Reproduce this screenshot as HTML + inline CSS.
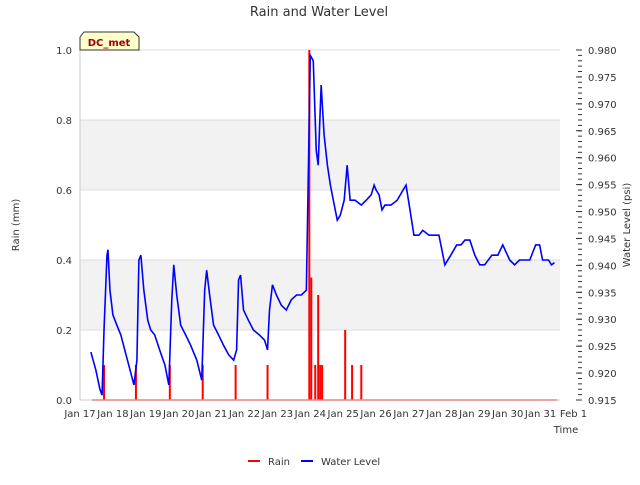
<!DOCTYPE html>
<html><head><meta charset="utf-8"><style>
body{margin:0;background:#fff;font-family:"Liberation Sans","DejaVu Sans",sans-serif}
svg text{font-family:"DejaVu Sans","Liberation Sans",sans-serif;fill:#333}
</style></head><body>
<svg id="chart" width="640" height="480" xmlns="http://www.w3.org/2000/svg">
<text x="319" y="16" text-anchor="middle" font-size="13" fill="#444">Rain and Water Level</text>
<g id="bands"></g><g id="grid"></g><g id="rainG"></g><g id="waterG"></g><g id="axes"></g>
<text x="19" y="225" transform="rotate(-90 19 225)" text-anchor="middle" font-size="10">Rain (mm)</text>
<text x="630" y="225" transform="rotate(-90 630 225)" text-anchor="middle" font-size="10">Water Level (psi)</text>
<text x="566" y="433" text-anchor="middle" font-size="10">Time</text>
<g>
<path d="M80,50 L80,37 L84,32 L134,32 L139,37 L139,50 Z" fill="#ffffcc" stroke="#333" stroke-width="1"/>
<text x="109" y="46" text-anchor="middle" font-size="10" font-weight="bold" fill="#a00000" style="fill:#a00000">DC_met</text>
</g>
<g>
<line x1="248" y1="461" x2="260" y2="461" stroke="red" stroke-width="2"/>
<text x="268" y="465" font-size="10">Rain</text>
<line x1="301" y1="461" x2="313" y2="461" stroke="blue" stroke-width="2"/>
<text x="321" y="465" font-size="10">Water Level</text>
</g>
</svg>
<script>
const xTickLabels=["Jan 17","Jan 18","Jan 19","Jan 20","Jan 21","Jan 22","Jan 23","Jan 24","Jan 25","Jan 26","Jan 27","Jan 28","Jan 29","Jan 30","Jan 31","Feb 1"];
const leftTicks=[0.0,0.2,0.4,0.6,0.8,1.0];
const rightTicks=[0.915,0.920,0.925,0.930,0.935,0.940,0.945,0.950,0.955,0.960,0.965,0.970,0.975,0.980];
// days since Jan 17
const rainDays=[0.73,1.70,2.73,3.73,4.73,5.70,6.97,7.03,7.15,7.24,7.30,7.36,8.06,8.27,8.55];
const rainVals=[0.10,0.10,0.10,0.10,0.10,0.10,1.00,0.35,0.10,0.30,0.10,0.10,0.20,0.10,0.10];
const waterDays=[0.33,0.48,0.61,0.67,0.73,0.82,0.85,0.91,1.00,1.12,1.24,1.36,1.52,1.64,1.73,1.79,1.85,1.94,2.06,2.15,2.27,2.42,2.58,2.70,2.79,2.85,2.94,3.06,3.21,3.36,3.55,3.70,3.79,3.85,3.94,4.06,4.21,4.36,4.52,4.67,4.76,4.82,4.88,4.97,5.12,5.27,5.45,5.61,5.70,5.76,5.85,5.97,6.12,6.27,6.42,6.58,6.73,6.88,7.00,7.09,7.18,7.24,7.33,7.42,7.52,7.61,7.70,7.82,7.91,8.03,8.12,8.21,8.36,8.55,8.70,8.85,8.94,9.00,9.09,9.18,9.27,9.45,9.64,9.82,9.91,10.03,10.15,10.30,10.42,10.61,10.79,10.91,11.09,11.27,11.45,11.58,11.70,11.85,12.00,12.15,12.30,12.52,12.70,12.85,13.06,13.21,13.36,13.67,13.85,13.97,14.06,14.24,14.33,14.42];
const waterVals=[0.9239,0.9206,0.9169,0.9159,0.928,0.9419,0.9429,0.9354,0.9308,0.9289,0.9271,0.9243,0.9206,0.9178,0.9224,0.941,0.9419,0.9354,0.9298,0.928,0.9271,0.9243,0.9215,0.9178,0.9336,0.9401,0.9345,0.9289,0.9271,0.9252,0.9224,0.9187,0.9354,0.9391,0.9345,0.9289,0.9271,0.9252,0.9234,0.9224,0.9243,0.9373,0.9382,0.9317,0.9298,0.928,0.9271,0.9261,0.9243,0.9317,0.9364,0.9345,0.9326,0.9317,0.9336,0.9345,0.9345,0.9354,0.979,0.978,0.9614,0.9586,0.9735,0.9642,0.9586,0.9549,0.9521,0.9484,0.9493,0.9521,0.9586,0.9521,0.9521,0.9512,0.9521,0.9531,0.9549,0.954,0.9531,0.9503,0.9512,0.9512,0.9521,0.954,0.9549,0.9503,0.9456,0.9456,0.9465,0.9456,0.9456,0.9456,0.9401,0.9419,0.9438,0.9438,0.9447,0.9447,0.9419,0.9401,0.9401,0.9419,0.9419,0.9438,0.941,0.9401,0.941,0.941,0.9438,0.9438,0.941,0.941,0.9401,0.9405];
const NS="http://www.w3.org/2000/svg";
const L=80,R=560,T=50,B=400;
const xS=d=>80+d*32.9;
const yL=v=>B-(v-0)/(1.0-0)*(B-T);
const yR=v=>B-(v-0.915)/(0.980-0.915)*(B-T);
function mk(tag,parent,attrs){const e=document.createElementNS(NS,tag);for(const k in attrs)e.setAttribute(k,attrs[k]);document.getElementById(parent).appendChild(e);return e;}
// bands
[[0.2,0.4],[0.6,0.8]].forEach(b=>{const e=mk('rect','bands',{x:L,y:yL(b[1]),width:R-L,height:yL(b[0])-yL(b[1]),fill:'#f2f2f2'});

});
leftTicks.forEach(v=>{const e=mk('line','grid',{x1:L,x2:R,y1:yL(v),y2:yL(v),stroke:'#dcdcdc','stroke-width':1});


const t=mk('text','axes',{x:L-8,y:yL(v)+4,'text-anchor':'end','font-size':10});t.textContent=v.toFixed(1);

});
mk('line','axes',{x1:L,x2:L,y1:T,y2:B,stroke:'#ccc'});
mk('line','axes',{x1:L,x2:R,y1:B,y2:B,stroke:'#ccc'});
rightTicks.forEach(v=>{const t=mk('text','axes',{x:R+28,y:yR(v)+4,'font-size':10});t.textContent=v.toFixed(3);


for(let k=0;k<5&&v<0.98;k++){const y=yR(v+k*0.001);mk('line','axes',{x1:R+18,x2:R+22,y1:y,y2:y,stroke:'#333'});}
mk('line','axes',{x1:R+16,x2:R+22,y1:yR(v),y2:yR(v),stroke:'#333'});});
xTickLabels.forEach((s,i)=>{const t=mk('text','axes',{x:xS(i),y:417,'text-anchor':'middle','font-size':10});t.textContent=s;

});
// rain
const base=mk('line','rainG',{x1:xS(0.36),x2:xS(14.5),y1:yL(0),y2:yL(0),stroke:'red','stroke-width':1.5});


rainDays.forEach((d,i)=>{const e=mk('line','rainG',{x1:xS(d),x2:xS(d),y1:yL(0),y2:yL(rainVals[i]),stroke:'red','stroke-width':2});

});
// water
const p=mk('polyline','waterG',{points:waterDays.map((d,i)=>xS(d)+','+yR(waterVals[i])).join(' '),fill:'none',stroke:'blue','stroke-width':1.6});


</script>
</body></html>
